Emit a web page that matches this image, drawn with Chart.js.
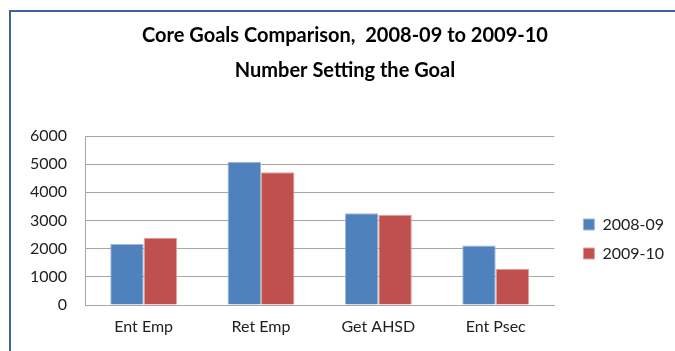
<!DOCTYPE html>
<html>
<head>
<meta charset="utf-8">
<script src="https://cdn.jsdelivr.net/npm/chart.js@4"></script>
<style>
    body { margin: 0; background: #fff; overflow: hidden; }
    #wrap { position: relative; width: 675px; height: 351px; }
    #frame {
        position: absolute; left: 9px; top: 10px; width: 800px; height: 500px;
        border-left: 2px solid #3d63a0; border-top: 2px solid #3d63a0;
        pointer-events: none;
    }
</style>
</head>
<body>
<div id="wrap">
    <canvas id="goals_chart" width="675" height="351"></canvas>
    <div id="frame"></div>
</div>
<script>
var categories = ['Ent Emp', 'Ret Emp', 'Get AHSD', 'Ent Psec'];
var seriesNames = ['2008-09', '2009-10'];
var values0809 = [2170, 5090, 3260, 2110];
var values0910 = [2390, 4710, 3200, 1290];
var yTicks = [0, 1000, 2000, 3000, 4000, 5000, 6000];

var fontName = 'Lato';
var gridColor = '#a6a6a6';

var chart = new Chart('goals_chart', {
    type: 'bar',
    data: {
        labels: categories,
        datasets: [{
            label: seriesNames[0],
            data: values0809,
            backgroundColor: '#4f81bd',
            borderColor: '#9db8dc',
            borderWidth: 1,
            borderSkipped: 'bottom'
        }, {
            label: seriesNames[1],
            data: values0910,
            backgroundColor: '#c0504d',
            borderColor: '#e0a09e',
            borderWidth: 1,
            borderSkipped: 'bottom'
        }]
    },
    options: {
        responsive: false,
        animation: false,
        categoryPercentage: 0.57,
        barPercentage: 1,
        layout: {
            padding: {left: 16, right: 1, top: 0, bottom: 15}
        },
        scales: {
            x: {
                afterFit: function (scale) { scale.height = 31; },
                grid: {display: false, drawTicks: false},
                border: {display: true, color: gridColor},
                ticks: {
                    color: '#222',
                    padding: 12,
                    font: {family: fontName, size: 16}
                }
            },
            y: {
                min: yTicks[0],
                max: yTicks[yTicks.length - 1],
                afterFit: function (scale) { scale.width = 69; },
                afterBuildTicks: function (scale) {
                    scale.ticks = yTicks.map(function (v) { return {value: v}; });
                },
                grid: {color: gridColor, drawTicks: false},
                border: {display: true, color: gridColor},
                ticks: {
                    color: '#222',
                    padding: 18,
                    font: {family: fontName, size: 16},
                    callback: function (value) { return String(value); }
                }
            },
            // empty right-hand axis, only keeps a gap before the legend
            gap: {
                position: 'right',
                type: 'linear',
                afterFit: function (scale) { scale.width = 16; },
                grid: {display: false, drawTicks: false},
                border: {display: false},
                ticks: {display: false}
            }
        },
        plugins: {
            title: {
                display: true,
                text: 'Core Goals Comparison,  2008-09 to 2009-10',
                color: '#000',
                font: {family: fontName, size: 20, weight: 'bold'},
                padding: {top: 24, bottom: 11}
            },
            subtitle: {
                display: true,
                text: 'Number Setting the Goal',
                color: '#000',
                font: {family: fontName, size: 20, weight: 'bold'},
                padding: {top: 0, bottom: 53}
            },
            legend: {
                position: 'right',
                fullSize: false,
                title: {
                    display: true,
                    text: '',
                    font: {size: 10, lineHeight: 1.2},
                    padding: 12.5
                },
                labels: {
                    color: '#222',
                    boxWidth: 11,
                    boxHeight: 11,
                    padding: 13,
                    font: {family: fontName, size: 16}
                }
            },
            tooltip: {enabled: false}
        }
    }
});
</script>
</body>
</html>
